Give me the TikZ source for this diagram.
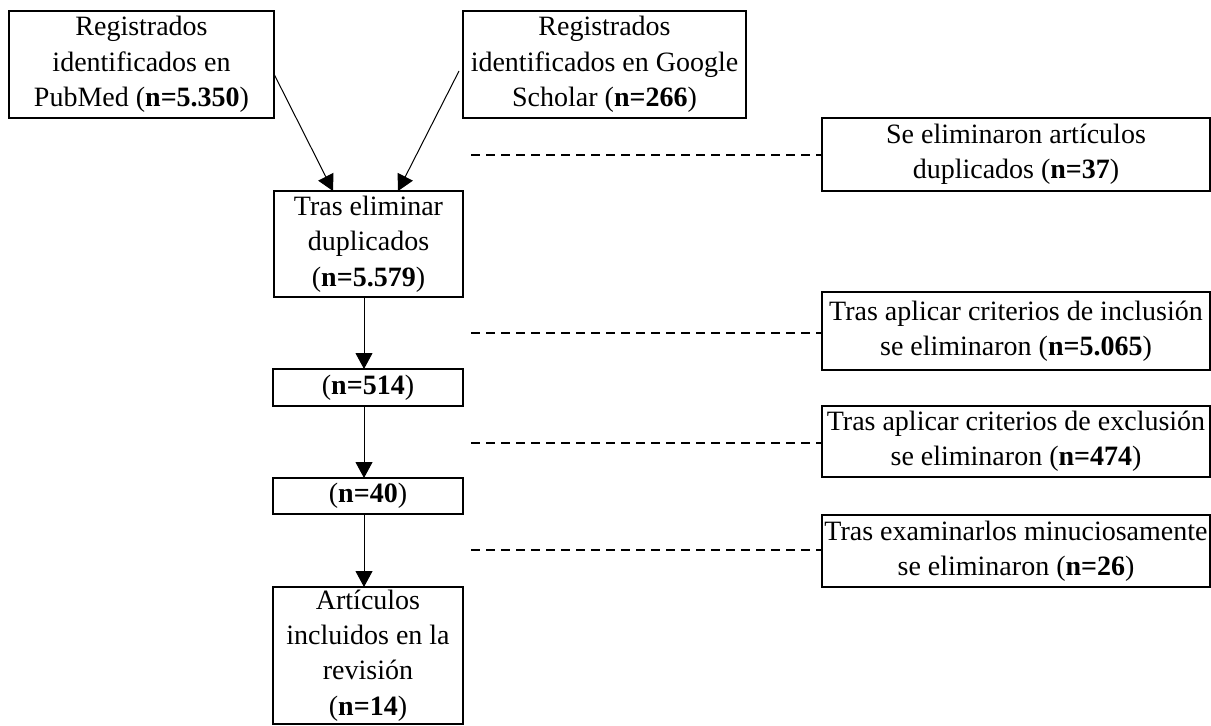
\documentclass[tikz,border=0pt]{standalone}
\usepackage{fontspec}
\setmainfont{Liberation Serif}
\usetikzlibrary{arrows.meta}
\begin{document}
\begin{tikzpicture}[x=0.5pt,y=-0.5pt,
  box/.style={draw, line width=0.85pt, inner sep=0pt, outer sep=0pt, align=center,
    font=\fontsize{14pt}{17.7pt}\selectfont},
  arr/.style={line width=0.5pt, -{Triangle[length=8pt,width=8.5pt]}},
  dashline/.style={line width=0.6pt, dash pattern=on 4.5pt off 3pt}]
\useasboundingbox (0,0) rectangle (1211,725);

\node[box, minimum width=132.5pt, minimum height=53.5pt] (b1) at (141.5,64.5)
  {Registrados\\identificados en\\PubMed (\textbf{n=5.350})};
\node[box, minimum width=141.5pt, minimum height=53.5pt] (b2) at (604.5,64.5)
  {Registrados\\identificados en Google\\Scholar (\textbf{n=266})};
\node[box, minimum width=94.5pt, minimum height=53pt] (b3) at (368.5,244)
  {Tras eliminar\\duplicados\\(\textbf{n=5.579})};
\node[box, minimum width=95pt, minimum height=18.5pt] (b4) at (368,387.5)
  {(\textbf{n=514})};
\node[box, minimum width=95pt, minimum height=18pt] (b5) at (368,496)
  {(\textbf{n=40})};
\node[box, minimum width=95pt, minimum height=68.5pt] (b6) at (368,655.5)
  {Artículos\\incluidos en la\\revisión\\(\textbf{n=14})};

\node[box, minimum width=194pt, minimum height=36.5pt] (r1) at (1016,154.5)
  {Se eliminaron artículos\\duplicados (\textbf{n=37})};
\node[box, minimum width=194pt, minimum height=39pt] (r2) at (1016,331)
  {Tras aplicar criterios de inclusión\\se eliminaron (\textbf{n=5.065})};
\node[box, minimum width=194pt, minimum height=35.5pt] (r3) at (1016,441.5)
  {Tras aplicar criterios de exclusión\\se eliminaron (\textbf{n=474})};
\node[box, minimum width=194pt, minimum height=36pt] (r4) at (1016,551)
  {Tras examinarlos minuciosamente\\se eliminaron (\textbf{n=26})};

\draw[arr] ([yshift=-4.75pt]b1.east) -- ([xshift=-17.75pt]b3.north);
\draw[arr] ([xshift=-2pt,yshift=-3.25pt]b2.west) -- ([xshift=14.75pt]b3.north);
\draw[arr] ([xshift=-2.25pt]b3.south) -- ([xshift=-2pt]b4.north);
\draw[arr] ([xshift=-2pt]b4.south) -- ([xshift=-2pt]b5.north);
\draw[arr] ([xshift=-2pt]b5.south) -- ([xshift=-2pt]b6.north);

\coordinate (d1) at (471,155);
\coordinate (d2) at (471,333);
\coordinate (d3) at (471,443);
\coordinate (d4) at (471,550);
\draw[dashline] (d1) -- (d1 -| r1.west);
\draw[dashline] (d2) -- (d2 -| r2.west);
\draw[dashline] (d3) -- (d3 -| r3.west);
\draw[dashline] (d4) -- (d4 -| r4.west);
\end{tikzpicture}
\end{document}
